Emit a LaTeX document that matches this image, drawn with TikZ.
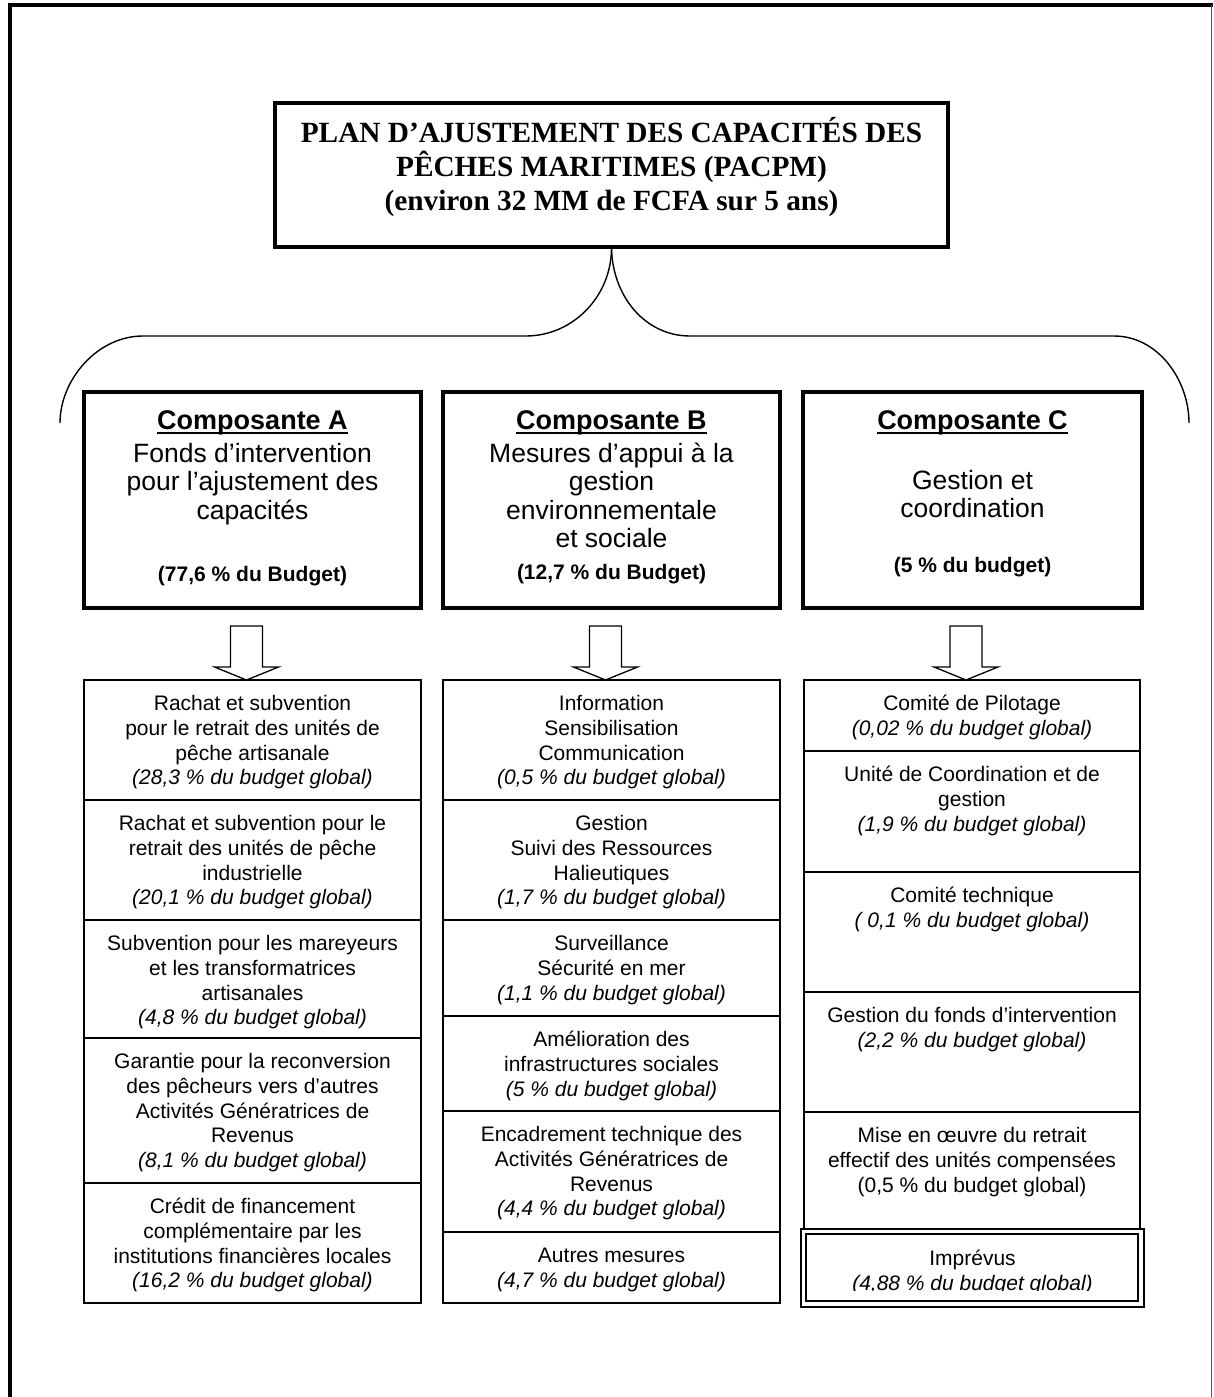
\documentclass[tikz,border=0pt]{standalone}
\usepackage{fontspec}
\setmainfont{Liberation Sans}
\newfontfamily\serifb{Liberation Serif}
\usetikzlibrary{calc}

\newcommand\fl{\rule{0pt}{30pt}}
\newcommand\myul[1]{\setbox0\hbox{#1}\rlap{\rule[-5pt]{\wd0}{2pt}}\box0}

\tikzset{
  cell/.style={draw, line width=1.8pt, inner sep=0pt, outer sep=0pt, rectangle},
  celltext/.style={anchor=north, inner sep=0pt, align=center, font=\fontsize{21}{24.7}\selectfont},
  compbox/.style={draw, line width=3.5pt, inner sep=0pt, outer sep=0pt, rectangle},
  comphead/.style={anchor=north, inner sep=0pt, font=\bfseries\fontsize{27}{30}\selectfont},
  compbody/.style={anchor=north, inner sep=0pt, align=center, font=\fontsize{26.5}{28.5}\selectfont},
  compbudget/.style={anchor=north, inner sep=0pt, font=\bfseries\fontsize{21}{24}\selectfont},
  bracestyle/.style={line width=1.4pt},
  blockarrow/.style={draw, line width=1.3pt, fill=white, line join=miter},
}

\newcommand\cellbox[6]{%
  \node[cell, minimum width={(#4-#2)*1pt}, minimum height={(#5-#3)*1pt}] (#1) at ({(#2+#4)/2},{(#3+#5)/2}) {};
  \node[celltext] (#1t) at ($(#1.north)+(0,0.5)$) {\fl #6};}

\newcommand\blockarr[1]{%
  \draw[blockarrow] ($(#1)+(-16,-54)$) -- ($(#1)+(16,-54)$) -- ($(#1)+(16,-13)$) -- ($(#1)+(32,-13)$) -- (#1) -- ($(#1)+(-32,-13)$) -- ($(#1)+(-16,-13)$) -- cycle;}

\begin{document}
\begin{tikzpicture}[x=1pt, y=-1pt]
\useasboundingbox (0,0) rectangle (1213,1397);

% outer frame
\draw[line width=4pt] (10,1397) -- (10,5) -- (1213,5);
\draw[line width=1.5pt, black!65] (1211.5,5) -- (1211.5,1397);

% title box
\node[draw, line width=4pt, inner sep=0pt, outer sep=0pt, minimum width=673pt, minimum height=144pt] (top) at (611.5,175) {};
\node[anchor=north, inner sep=0pt, align=center, font=\serifb\bfseries\fontsize{29.3}{34}\selectfont] (topt) at (611.5,112)
  {\fl PLAN D’AJUSTEMENT DES CAPACITÉS DES\\PÊCHES MARITIMES (PACPM)\\(environ 32 MM de FCFA sur 5 ans)};

% composante boxes
\node[compbox, minimum width=337pt, minimum height=216pt] (cA) at (252.5,500) {};
\node[compbox, minimum width=337pt, minimum height=216pt] (cB) at (611.5,500) {};
\node[compbox, minimum width=339pt, minimum height=216pt] (cC) at (972.5,500) {};

\node[comphead] (cAh) at (252.5,399) {\fl\myul{Composante A}};
\node[comphead] (cBh) at (611.5,399) {\fl\myul{Composante B}};
\node[comphead] (cCh) at (972.5,399) {\fl\myul{Composante C}};

\node[compbody] (cAb) at (252.5,432) {\fl Fonds d’intervention\\pour l’ajustement des\\capacités};
\node[compbody] (cBb) at (611.5,432) {\fl Mesures d’appui à la\\gestion\\environnementale\\et sociale};
\node[compbody] (cCb) at (972.5,459) {\fl Gestion et\\coordination};

\node[compbudget] (cAp) at (252.5,551.5) {\fl(77,6 \% du Budget)};
\node[compbudget] (cBp) at (611.5,549.5) {\fl(12,7 \% du Budget)};
\node[compbudget] (cCp) at (972.5,542.5) {\fl(5 \% du budget)};

% brace
\coordinate (braceL) at (60,423);
\coordinate (braceR) at (1189,423);
\draw[bracestyle] (top.south) .. controls (612,296) and (573,336) .. (526,336) -- (143,336)
  .. controls (97,336) and (60,380) .. (braceL);
\draw[bracestyle] (top.south) .. controls (612,296) and (645,336) .. (690,336) -- (1114,336)
  .. controls (1158,336) and (1189,380) .. (braceR);

% column A
\cellbox{a1}{84}{680}{421}{800}{Rachat et subvention\\pour le retrait des unités de\\pêche artisanale\\\textit{(28,3 \% du budget global)}}
\cellbox{a2}{84}{800}{421}{920}{Rachat et subvention pour le\\retrait des unités de pêche\\industrielle\\\textit{(20,1 \% du budget global)}}
\cellbox{a3}{84}{920}{421}{1038}{Subvention pour les mareyeurs\\et les transformatrices\\artisanales\\\textit{(4,8 \% du budget global)}}
\cellbox{a4}{84}{1038}{421}{1183}{Garantie pour la reconversion\\des pêcheurs vers d’autres\\Activités Génératrices de\\Revenus\\\textit{(8,1 \% du budget global)}}
\cellbox{a5}{84}{1183}{421}{1303}{Crédit de financement\\complémentaire par les\\institutions financières locales\\\textit{(16,2 \% du budget global)}}

% column B
\cellbox{b1}{443}{680}{780}{800}{Information\\Sensibilisation\\Communication\\\textit{(0,5 \% du budget global)}}
\cellbox{b2}{443}{800}{780}{920}{Gestion\\Suivi des Ressources\\Halieutiques\\\textit{(1,7 \% du budget global)}}
\cellbox{b3}{443}{920}{780}{1016}{Surveillance\\Sécurité en mer\\\textit{(1,1 \% du budget global)}}
\cellbox{b4}{443}{1016}{780}{1111}{Amélioration des\\infrastructures sociales\\\textit{(5 \% du budget global)}}
\cellbox{b5}{443}{1111}{780}{1232}{Encadrement technique des\\Activités Génératrices de\\Revenus\\\textit{(4,4 \% du budget global)}}
\cellbox{b6}{443}{1232}{780}{1303}{Autres mesures\\\textit{(4,7 \% du budget global)}}

% column C
\cellbox{c1}{804}{680}{1140}{751}{Comité de Pilotage\\\textit{(0,02 \% du budget global)}}
\cellbox{c2}{804}{751}{1140}{872}{Unité de Coordination et de\\gestion\\\textit{(1,9 \% du budget global)}}
\cellbox{c3}{804}{872}{1140}{992}{Comité technique\\\textit{( 0,1 \% du budget global)}}
\cellbox{c4}{804}{992}{1140}{1112}{Gestion du fonds d’intervention\\\textit{(2,2 \% du budget global)}}
\cellbox{c5}{804}{1112}{1140}{1229}{Mise en œuvre du retrait\\effectif des unités compensées\\(0,5 \% du budget global)}

% Imprevus double box
\node[draw, line width=2.8pt, inner sep=0pt, outer sep=0pt, minimum width=343pt, minimum height=78pt] (c6) at (972.5,1268) {};
\node[draw, line width=1.8pt, inner sep=0pt, outer sep=0pt, minimum width=332pt, minimum height=67pt] (c6in) at (972,1267.5) {};
\begin{scope}
  \clip (806,1234) rectangle (1138,1290);
  \node[celltext] (c6t) at ($(c6.north)+(0,6.5)$) {\fl Imprévus\\\textit{(4,88 \% du budget global)}};
\end{scope}

% block arrows
\coordinate (tA) at ($(a1.north)+(-6,0)$);
\coordinate (tB) at ($(b1.north)+(-6,0)$);
\coordinate (tC) at ($(c1.north)+(-6,0)$);
\blockarr{tA}
\blockarr{tB}
\blockarr{tC}
\end{tikzpicture}
\end{document}
